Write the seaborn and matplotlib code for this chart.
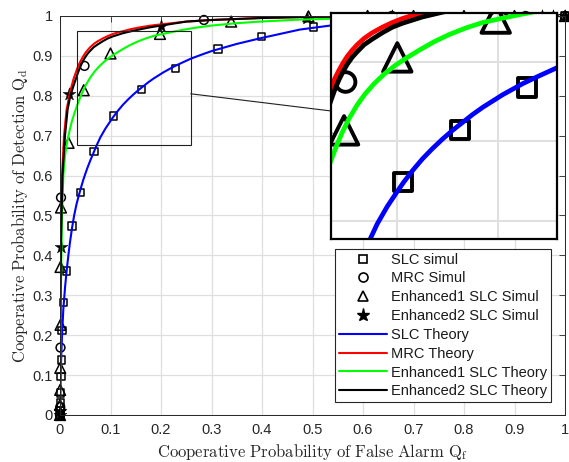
import numpy as np
import pandas as pd
import matplotlib
matplotlib.use("Agg")
import matplotlib.pyplot as plt
import seaborn as sns
from matplotlib.lines import Line2D
from matplotlib.patches import Rectangle

# ---------------- data ----------------
slc_sim_x = [0.0, 0.0005, 0.001, 0.0015, 0.002, 0.003, 0.004, 0.0066, 0.013, 0.024, 0.040, 0.067,
             0.106, 0.162, 0.229, 0.313, 0.399, 0.502, 0.61, 0.70, 0.80, 0.90, 1.0]
slc_sim_y = [0.0, 0.01, 0.03, 0.055, 0.096, 0.138, 0.211, 0.282, 0.361, 0.474, 0.558, 0.660,
             0.749, 0.815, 0.868, 0.917, 0.948, 0.972, 0.985, 0.992, 0.997, 0.999, 1.0]

mrc_sim_x = [0.0, 0.0005, 0.001, 0.002, 0.0485, 0.285, 0.657, 0.922, 1.0]
mrc_sim_y = [0.0, 0.02, 0.169, 0.545, 0.875, 0.990, 1.0, 1.0, 1.0]

e1_sim_x = [0.0, 0.0, 0.0003, 0.0005, 0.001, 0.001, 0.002, 0.017, 0.047, 0.100, 0.198, 0.339,
            0.492, 0.609, 0.70, 0.80, 0.90, 1.0]
e1_sim_y = [0.0, 0.025, 0.063, 0.118, 0.226, 0.371, 0.520, 0.682, 0.814, 0.906, 0.955, 0.986,
            0.999, 1.0, 1.0, 1.0, 1.0, 1.0]

e2_sim_x = [0.0, 0.0003, 0.001, 0.018, 0.200, 0.490, 0.657, 0.954, 0.976, 1.0]
e2_sim_y = [0.0, 0.010, 0.422, 0.804, 0.975, 0.996, 1.0, 1.0, 1.0, 1.0]

slc_th_x = [0.0, 0.0003, 0.001, 0.002, 0.004, 0.0066, 0.010, 0.013, 0.017, 0.020, 0.024, 0.028,
            0.033, 0.040, 0.046, 0.053, 0.060, 0.067, 0.073, 0.080, 0.090, 0.100, 0.106, 0.115,
            0.125, 0.135, 0.145, 0.155, 0.165, 0.175, 0.185, 0.195, 0.205, 0.215, 0.225, 0.240,
            0.259, 0.280, 0.300, 0.350, 0.396, 0.475, 0.535, 0.60, 0.70, 0.80, 0.90, 1.0]
slc_th_y = [0.0, 0.03, 0.08, 0.13, 0.20, 0.265, 0.32, 0.36, 0.405, 0.435, 0.47, 0.50,
            0.53, 0.563, 0.589, 0.615, 0.638, 0.659, 0.677, 0.696, 0.718, 0.737, 0.748, 0.763,
            0.778, 0.791, 0.803, 0.814, 0.824, 0.834, 0.843, 0.851, 0.859, 0.866, 0.873, 0.882,
            0.893, 0.903, 0.912, 0.930, 0.944, 0.966, 0.976, 0.984, 0.991, 0.996, 0.999, 1.0]

mrc_th_x = [0.0, 0.0003, 0.001, 0.002, 0.004, 0.008, 0.013, 0.020, 0.027, 0.034, 0.038, 0.042,
            0.046, 0.050, 0.055, 0.060, 0.067, 0.075, 0.085, 0.095, 0.105, 0.115, 0.125, 0.140,
            0.160, 0.180, 0.200, 0.250, 0.300, 0.400, 0.500, 0.700, 1.0]
mrc_th_y = [0.0, 0.15, 0.33, 0.47, 0.60, 0.70, 0.765, 0.81, 0.843, 0.868, 0.880, 0.890,
            0.899, 0.907, 0.915, 0.922, 0.930, 0.937, 0.944, 0.950, 0.955, 0.959, 0.962, 0.967,
            0.972, 0.976, 0.979, 0.986, 0.990, 0.995, 0.998, 0.9995, 1.0]

e1_th_x = [0.0, 0.0005, 0.001, 0.002, 0.004, 0.0066, 0.010, 0.015, 0.020, 0.024, 0.029, 0.034,
           0.039, 0.045, 0.052, 0.060, 0.068, 0.077, 0.087, 0.098, 0.110, 0.123, 0.137, 0.152,
           0.168, 0.185, 0.203, 0.222, 0.242, 0.270, 0.300, 0.350, 0.396, 0.475, 0.535, 0.70,
           0.85, 1.0]
e1_th_y = [0.0, 0.10, 0.20, 0.33, 0.50, 0.60, 0.65, 0.69, 0.718, 0.738, 0.758, 0.776,
           0.793, 0.811, 0.829, 0.846, 0.860, 0.873, 0.885, 0.896, 0.906, 0.916, 0.926, 0.935,
           0.943, 0.950, 0.955, 0.960, 0.965, 0.971, 0.976, 0.982, 0.986, 0.991, 0.993, 0.997,
           0.999, 1.0]

e2_th_x = [0.0, 0.0003, 0.001, 0.002, 0.005, 0.0099, 0.015, 0.020, 0.026, 0.034, 0.038, 0.042,
           0.046, 0.050, 0.055, 0.060, 0.067, 0.075, 0.085, 0.095, 0.105, 0.115, 0.125, 0.135,
           0.145, 0.160, 0.180, 0.200, 0.250, 0.300, 0.400, 0.500, 0.700, 1.0]
e2_th_y = [0.0, 0.12, 0.30, 0.44, 0.60, 0.70, 0.765, 0.797, 0.822, 0.852, 0.866, 0.878,
           0.888, 0.897, 0.906, 0.913, 0.922, 0.929, 0.937, 0.944, 0.949, 0.953, 0.957, 0.960,
           0.963, 0.967, 0.972, 0.976, 0.986, 0.990, 0.995, 0.998, 0.9995, 1.0]

x_ticks = [0, 0.1, 0.2, 0.3, 0.4, 0.5, 0.6, 0.7, 0.8, 0.9, 1]
y_ticks = [0, 0.1, 0.2, 0.3, 0.4, 0.5, 0.6, 0.7, 0.8, 0.9, 1]
tick_labels = ["0", "0.1", "0.2", "0.3", "0.4", "0.5", "0.6", "0.7", "0.8", "0.9", "1"]

zoom_xlim = (0.034, 0.259)
zoom_ylim = (0.677, 0.962)

sim_names = ["SLC simul", "MRC Simul", "Enhanced1 SLC Simul", "Enhanced2 SLC Simul"]
th_names = ["SLC Theory", "MRC Theory", "Enhanced1 SLC Theory", "Enhanced2 SLC Theory"]
th_colors = ["#0000ff", "#ff0000", "#00ff00", "#000000"]

# ---------------- tables ----------------
theory = pd.concat([
    pd.DataFrame({"x": slc_th_x, "y": slc_th_y, "series": th_names[0]}),
    pd.DataFrame({"x": mrc_th_x, "y": mrc_th_y, "series": th_names[1]}),
    pd.DataFrame({"x": e1_th_x, "y": e1_th_y, "series": th_names[2]}),
    pd.DataFrame({"x": e2_th_x, "y": e2_th_y, "series": th_names[3]}),
], ignore_index=True)

sims = [
    (slc_sim_x, slc_sim_y, "s", False),
    (mrc_sim_x, mrc_sim_y, "o", False),
    (e1_sim_x, e1_sim_y, "^", False),
    (e2_sim_x, e2_sim_y, "*", True),
]

# ---------------- style ----------------
sns.set_style("white")
plt.rcParams["font.family"] = ["Liberation Sans", "DejaVu Sans"]
plt.rcParams["mathtext.fontset"] = "cm"
AXC = "#262626"
GRID = "#dfdfdf"

W, H = 569, 462
fig = plt.figure(figsize=(W / 100, H / 100), dpi=100)
ax = fig.add_axes([60 / W, 47 / H, 505 / W, 399 / H])
axin = fig.add_axes([331 / W, (H - 239) / H, 226 / W, 226 / H])


def draw(a, lw, sizes, mew, clip):
    for (xs, ys, mk, filled), s in zip(sims, sizes):
        if filled:
            sns.scatterplot(x=xs, y=ys, marker=mk, s=s * 1.6, color="black",
                            edgecolor="black", linewidth=0.3, ax=a, clip_on=clip, zorder=1.5)
        else:
            sns.scatterplot(x=xs, y=ys, marker=mk, s=s, facecolor="none",
                            edgecolor="black", linewidth=mew, ax=a, clip_on=clip, zorder=1.5)
    sns.lineplot(data=theory, x="x", y="y", hue="series", hue_order=th_names,
                 palette=th_colors, sort=False, estimator=None, legend=False,
                 linewidth=lw, ax=a, zorder=2)
    for ln in a.get_lines():
        ln.set_solid_joinstyle("round")
        ln.set_solid_capstyle("round")


draw(ax, 1.5, [28, 40, 60, 60], 1.1, False)
draw(axin, 3.4, [170, 200, 420, 420], 2.8, True)

# main axes styling
ax.set_xlim(0, 1)
ax.set_ylim(0, 1)
ax.set_xticks(x_ticks)
ax.set_yticks(y_ticks)
ax.set_xticklabels(tick_labels)
ax.set_yticklabels(tick_labels)
ax.grid(True, color=GRID, linewidth=0.9)
ax.set_axisbelow(True)
ax.tick_params(direction="in", length=4, width=0.6, top=True, right=True,
               labelsize=10.5, colors=AXC, labelcolor=AXC)
ax.tick_params(axis="x", pad=6)
ax.tick_params(axis="y", pad=5)
for sp in ax.spines.values():
    sp.set_color(AXC)
    sp.set_linewidth(0.7)
ax.set_xlabel(r"$\mathrm{Cooperative\ Probability\ of\ False\ Alarm\ Q_f}$",
              fontsize=12, color=AXC, labelpad=3)
ax.set_ylabel(r"$\mathrm{Cooperative\ Probability\ of\ Detection\ Q_d}$",
              fontsize=12, color=AXC, labelpad=2)

# zoom box and connector
ax.add_patch(Rectangle((zoom_xlim[0], zoom_ylim[0]), zoom_xlim[1] - zoom_xlim[0],
                       zoom_ylim[1] - zoom_ylim[0], fill=False, edgecolor="#202020",
                       linewidth=0.8, zorder=3))
ax.plot([zoom_xlim[1], 0.5366], [0.805, 0.762], color="#202020", linewidth=0.8,
        zorder=3, clip_on=False)

# inset styling
axin.set_xlim(*zoom_xlim)
axin.set_ylim(*zoom_ylim)
axin.set_xticks([0.1, 0.2])
axin.set_yticks([0.7, 0.8, 0.9])
axin.set_xticklabels([])
axin.set_yticklabels([])
axin.tick_params(length=0)
axin.grid(True, color=GRID, linewidth=1.4)
axin.set_axisbelow(True)
axin.set_xlabel("")
axin.set_ylabel("")
axin.set_facecolor("white")
for sp in axin.spines.values():
    sp.set_color("black")
    sp.set_linewidth(1.6)

# legend
handles = [
    Line2D([], [], linestyle="none", marker="s", markersize=5.5, markerfacecolor="none",
           markeredgecolor="black", markeredgewidth=1.2),
    Line2D([], [], linestyle="none", marker="o", markersize=6.5, markerfacecolor="none",
           markeredgecolor="black", markeredgewidth=1.2),
    Line2D([], [], linestyle="none", marker="^", markersize=7.5, markerfacecolor="none",
           markeredgecolor="black", markeredgewidth=1.2),
    Line2D([], [], linestyle="none", marker="*", markersize=9.5, markerfacecolor="black",
           markeredgecolor="black"),
] + [Line2D([], [], color=c, linewidth=1.5) for c in th_colors]
leg = fig.legend(handles, sim_names + th_names, loc="lower right",
                 bbox_to_anchor=(551 / W, (H - 402) / H), fontsize=10.5,
                 frameon=True, fancybox=False, framealpha=1, edgecolor="#262626",
                 handlelength=3.3, handletextpad=0.3, labelspacing=0.33,
                 borderpad=0.25, borderaxespad=0)
leg.get_frame().set_linewidth(0.8)
for t in leg.get_texts():
    t.set_color("#1a1a1a")

fig.savefig("out.png", dpi=100)
